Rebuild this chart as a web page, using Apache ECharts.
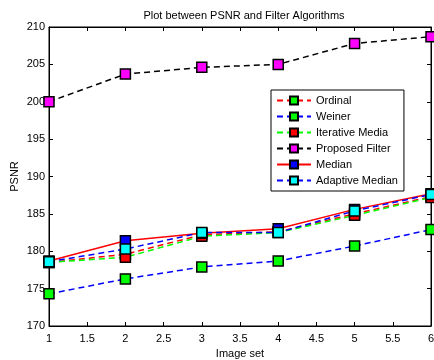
<!DOCTYPE html>
<html>
<head>
<meta charset="utf-8">
<script src="https://cdn.jsdelivr.net/npm/echarts@6/dist/echarts.min.js"></script>
<style>html,body{margin:0;padding:0;background:#fff}#c{width:434px;height:360px}</style>
</head>
<body>
<div id="c"></div>
<script>
var imageSet = [1, 2, 3, 4, 5, 6];
var ordinal = [178.5, 179.6, 182.2, 182.6, 185.0, 187.3];
var weiner = [174.3, 176.3, 177.9, 178.7, 180.7, 182.9];
var iterativeMedia = [178.5, 179.2, 182.0, 182.5, 184.8, 187.2];
var proposedFilter = [200.0, 203.7, 204.6, 205.0, 207.8, 208.7];
var median = [178.7, 181.4, 182.4, 183.0, 185.6, 187.7];
var adaptiveMedian = [178.6, 180.3, 182.5, 182.5, 185.4, 187.6];
var seriesNames = ['Ordinal', 'Weiner', 'Iterative Media', 'Proposed Filter', 'Median', 'Adaptive Median'];

var FONT = 'Liberation Sans';
function mk(name, vals, lineColor, markerColor, dashed) {
  return {
    name: name, type: 'line',
    data: imageSet.map(function (x, i) { return [x, vals[i]]; }),
    symbol: 'rect', symbolSize: 10,
    itemStyle: { color: markerColor, borderColor: '#000', borderWidth: 1.5 },
    lineStyle: { color: lineColor, width: 1.5, type: dashed ? [6, 4] : 'solid' },
    emphasis: { disabled: true },
    animation: false
  };
}
var chart = echarts.init(document.getElementById('c'));
chart.setOption({
  animation: false,
  backgroundColor: '#fff',
  title: {
    text: 'Plot between PSNR and Filter Algorithms',
    left: 239, top: 5, textAlign: 'center',
    textStyle: { fontFamily: FONT, fontSize: 11, fontWeight: 'normal', color: '#000' }
  },
  grid: { left: 49, right: 3, top: 27, bottom: 34, outerBoundsMode: 'none', containLabel: false, show: true, borderColor: '#000', borderWidth: 1 },
  legend: {
    orient: 'vertical', left: 271, top: 90,
    itemWidth: 34, itemHeight: 10, itemGap: 5,
    padding: [5, 6, 5, 5],
    borderColor: '#000', borderWidth: 1, backgroundColor: '#fff',
    textStyle: { fontFamily: FONT, fontSize: 11, color: '#000' },
    data: seriesNames
  },
  xAxis: [{
    type: 'value', min: 1, max: 6, interval: 0.5,
    name: 'Image set', nameLocation: 'middle', nameGap: 22,
    nameTextStyle: { fontFamily: FONT, fontSize: 11, color: '#000' },
    axisLine: { lineStyle: { color: '#000' } },
    axisTick: { inside: true, length: 4, lineStyle: { color: '#000' } },
    axisLabel: { fontFamily: FONT, fontSize: 11, color: '#000', margin: 7 },
    splitLine: { show: false }
  }, {
    type: 'value', min: 1, max: 6, interval: 0.5, position: 'top',
    axisLine: { lineStyle: { color: '#000' } },
    axisTick: { inside: true, length: 4, lineStyle: { color: '#000' } },
    axisLabel: { show: false }, splitLine: { show: false }
  }],
  yAxis: [{
    type: 'value', min: 170, max: 210, interval: 5,
    name: 'PSNR', nameLocation: 'middle', nameGap: 29, nameRotate: 90,
    nameMoveOverlap: false,
    nameTextStyle: { fontFamily: FONT, fontSize: 11, color: '#000' },
    axisLine: { show: true, lineStyle: { color: '#000' } },
    axisTick: { show: true, inside: true, length: 4, lineStyle: { color: '#000' } },
    axisLabel: { fontFamily: FONT, fontSize: 11, color: '#000', margin: 4 },
    splitLine: { show: false }
  }, {
    type: 'value', min: 170, max: 210, interval: 5, position: 'right',
    axisLine: { show: true, lineStyle: { color: '#000' } },
    axisTick: { show: true, inside: true, length: 4, lineStyle: { color: '#000' } },
    axisLabel: { show: false }, splitLine: { show: false }
  }],
  series: [
    mk(seriesNames[0], ordinal, '#ff0000', '#00ff00', true),
    mk(seriesNames[1], weiner, '#0000ff', '#00ff00', true),
    mk(seriesNames[2], iterativeMedia, '#00ff00', '#ff0000', true),
    mk(seriesNames[3], proposedFilter, '#000000', '#ff00ff', true),
    mk(seriesNames[4], median, '#ff0000', '#0000ff', false),
    mk(seriesNames[5], adaptiveMedian, '#0000ff', '#00ffff', true)
  ]
});
</script>
</body>
</html>
